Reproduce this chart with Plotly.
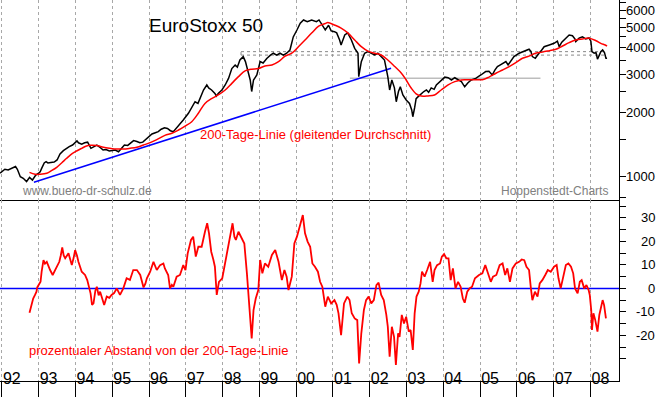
import math
import plotly.graph_objects as go

# ---------------- data (decimal year, value) ----------------
price_pts = [
    (1991.95, 1040), (1992.00, 1055), (1992.08, 1083), (1992.17, 1075), (1992.25, 1094),
    (1992.33, 1106), (1992.37, 1115), (1992.42, 1083), (1992.50, 1000), (1992.58, 983),
    (1992.67, 948), (1992.72, 975), (1992.75, 993), (1992.83, 965), (1992.92, 1018),
    (1993.00, 1040), (1993.04, 1055), (1993.08, 1094), (1993.15, 1160), (1993.20, 1175),
    (1993.25, 1160), (1993.33, 1165), (1993.42, 1170), (1993.50, 1197), (1993.58, 1277),
    (1993.67, 1323), (1993.75, 1357), (1993.83, 1381), (1993.92, 1406), (1994.00, 1457),
    (1994.04, 1470), (1994.08, 1440), (1994.17, 1420), (1994.25, 1440), (1994.33, 1450),
    (1994.42, 1357), (1994.50, 1381), (1994.58, 1406), (1994.67, 1370), (1994.75, 1333),
    (1994.83, 1340), (1994.92, 1320), (1995.00, 1325), (1995.08, 1333), (1995.17, 1308),
    (1995.25, 1360), (1995.33, 1406), (1995.42, 1400), (1995.50, 1440), (1995.58, 1474),
    (1995.67, 1460), (1995.75, 1440), (1995.83, 1450), (1995.92, 1494), (1996.00, 1538),
    (1996.08, 1583), (1996.17, 1605), (1996.25, 1623), (1996.33, 1666), (1996.42, 1694),
    (1996.50, 1680), (1996.58, 1640), (1996.66, 1623), (1996.75, 1700), (1996.83, 1760),
    (1996.93, 1841), (1997.07, 1978), (1997.16, 2115), (1997.25, 2240), (1997.33, 2200),
    (1997.39, 2316), (1997.48, 2542), (1997.57, 2683), (1997.62, 2600), (1997.70, 2542),
    (1997.79, 2450), (1997.83, 2380), (1997.88, 2450), (1997.98, 2542), (1998.07, 2683),
    (1998.16, 2880), (1998.25, 3200), (1998.34, 3327), (1998.40, 3250), (1998.47, 3510),
    (1998.56, 3640), (1998.62, 3450), (1998.68, 3150), (1998.75, 2831), (1998.79, 2500),
    (1998.84, 2831), (1998.93, 2987), (1999.02, 3450), (1999.10, 3400), (1999.20, 3570),
    (1999.30, 3700), (1999.38, 3775), (1999.47, 3700), (1999.56, 3775), (1999.65, 3700),
    (1999.74, 3775), (1999.83, 3909), (1999.92, 4500), (2000.02, 4847), (2000.11, 5210),
    (2000.20, 5400), (2000.30, 5300), (2000.42, 5400), (2000.55, 5300), (2000.62, 5400),
    (2000.70, 5100), (2000.79, 4847), (2000.88, 5100), (2000.95, 4800), (2001.04, 4760),
    (2001.10, 4700), (2001.18, 4353), (2001.22, 4125), (2001.32, 4593), (2001.40, 4700),
    (2001.50, 4353), (2001.59, 3980), (2001.68, 3775), (2001.70, 2935), (2001.77, 3450),
    (2001.86, 3775), (2001.95, 3840), (2002.04, 3775), (2002.13, 3704), (2002.22, 3775),
    (2002.31, 3640), (2002.40, 3510), (2002.49, 2935), (2002.54, 2542), (2002.60, 2831),
    (2002.67, 2600), (2002.72, 2240), (2002.78, 2500), (2002.83, 2630), (2002.90, 2409),
    (2002.99, 2283), (2003.08, 2200), (2003.14, 2050), (2003.17, 1906), (2003.22, 2100),
    (2003.26, 2316), (2003.33, 2380), (2003.40, 2450), (2003.47, 2500), (2003.54, 2542),
    (2003.60, 2480), (2003.67, 2600), (2003.75, 2560), (2003.81, 2683), (2003.88, 2750),
    (2003.94, 2831), (2004.04, 2920), (2004.13, 2900), (2004.22, 2831), (2004.31, 2900),
    (2004.40, 2831), (2004.49, 2780), (2004.58, 2630), (2004.67, 2750), (2004.76, 2831),
    (2004.88, 2880), (2005.02, 2987), (2005.15, 3100), (2005.24, 3110), (2005.33, 2987),
    (2005.40, 3150), (2005.47, 3270), (2005.55, 3330), (2005.61, 3390), (2005.70, 3450),
    (2005.76, 3327), (2005.84, 3500), (2005.92, 3640), (2006.06, 3775), (2006.13, 3820),
    (2006.20, 3880), (2006.33, 3940), (2006.38, 3850), (2006.42, 3640), (2006.50, 3575),
    (2006.55, 3700), (2006.60, 3775), (2006.67, 3900), (2006.74, 4050), (2006.88, 4125),
    (2007.01, 4200), (2007.10, 4300), (2007.15, 4050), (2007.22, 4250), (2007.28, 4353),
    (2007.35, 4450), (2007.42, 4593), (2007.51, 4560), (2007.58, 4400), (2007.60, 4283),
    (2007.69, 4440), (2007.78, 4500), (2007.87, 4400), (2007.96, 4450), (2008.01, 4300),
    (2008.04, 3840), (2008.10, 3775), (2008.15, 3800), (2008.19, 3540), (2008.24, 3700),
    (2008.28, 3840), (2008.33, 3909), (2008.38, 3800), (2008.42, 3575), (2008.45, 3580),
]

ma200_pts = [
    (1992.75, 1048), (1992.90, 1026), (1993.04, 1026), (1993.22, 1037), (1993.35, 1067),
    (1993.49, 1106), (1993.63, 1162), (1993.76, 1219), (1993.90, 1277), (1994.03, 1318),
    (1994.17, 1357), (1994.30, 1392), (1994.40, 1402), (1994.58, 1398), (1994.76, 1372),
    (1994.94, 1357), (1995.12, 1347), (1995.30, 1347), (1995.48, 1357), (1995.67, 1372),
    (1995.85, 1406), (1996.03, 1442), (1996.21, 1490), (1996.43, 1560), (1996.62, 1595),
    (1996.80, 1653), (1996.98, 1725), (1997.16, 1807), (1997.34, 1978), (1997.52, 2200),
    (1997.70, 2316), (1997.88, 2409), (1998.07, 2542), (1998.25, 2730), (1998.43, 2935),
    (1998.61, 3120), (1998.79, 3180), (1998.97, 3200), (1999.15, 3290), (1999.34, 3327),
    (1999.52, 3450), (1999.70, 3660), (1999.88, 3775), (2000.06, 4050), (2000.24, 4353),
    (2000.42, 4690), (2000.61, 5050), (2000.79, 5200), (2000.86, 5250), (2001.04, 5115),
    (2001.22, 4950), (2001.41, 4690), (2001.59, 4353), (2001.77, 4050), (2001.95, 3860),
    (2002.13, 3775), (2002.31, 3704), (2002.49, 3510), (2002.68, 3270), (2002.86, 3045),
    (2002.99, 2831), (2003.13, 2590), (2003.26, 2440), (2003.40, 2380), (2003.58, 2385),
    (2003.76, 2409), (2003.94, 2542), (2004.13, 2683), (2004.31, 2780), (2004.49, 2831),
    (2004.67, 2835), (2004.85, 2840), (2005.06, 2840), (2005.24, 2920), (2005.43, 3045),
    (2005.61, 3152), (2005.79, 3270), (2005.97, 3410), (2006.15, 3575), (2006.33, 3660),
    (2006.51, 3775), (2006.69, 3820), (2006.88, 3880), (2007.06, 3940), (2007.24, 4080),
    (2007.42, 4230), (2007.60, 4353), (2007.78, 4400), (2007.96, 4440), (2008.15, 4320),
    (2008.28, 4200), (2008.40, 4125), (2008.45, 4080),
]

deviation_pts = [
    (1992.75, -10.4), (1992.79, -7.8), (1992.85, -4.3), (1992.90, -2.8), (1992.94, -1.4),
    (1992.96, 0.4), (1993.02, 2.1), (1993.05, 2.8), (1993.08, 7.1), (1993.13, 12.0),
    (1993.17, 10.5), (1993.22, 11.3), (1993.31, 7.8), (1993.38, 5.7), (1993.47, 8.5),
    (1993.56, 11.3), (1993.60, 14.0), (1993.64, 17.4), (1993.68, 14.0), (1993.72, 12.8),
    (1993.81, 14.9), (1993.90, 9.9), (1993.95, 13.0), (1993.99, 16.3), (1994.04, 14.0),
    (1994.08, 11.3), (1994.17, 7.1), (1994.26, 5.7), (1994.32, 3.5), (1994.41, -2.1),
    (1994.45, -7.0), (1994.49, -6.4), (1994.54, -1.0), (1994.58, 0.7), (1994.63, -3.0),
    (1994.67, -1.4), (1994.78, -7.1), (1994.85, -3.5), (1994.92, -4.0), (1994.98, -2.8),
    (1995.05, -2.0), (1995.12, 0.0), (1995.21, -2.8), (1995.30, 0.0), (1995.39, 4.3),
    (1995.48, 3.6), (1995.57, 7.8), (1995.67, 7.8), (1995.76, 5.7), (1995.85, 0.4),
    (1995.90, 2.0), (1995.94, 4.3), (1996.03, 7.1), (1996.12, 11.3), (1996.21, 7.8),
    (1996.30, 9.9), (1996.39, 10.6), (1996.43, 8.5), (1996.52, 5.7), (1996.57, 0.0),
    (1996.62, 1.5), (1996.66, 0.7), (1996.75, 5.0), (1996.84, 5.7), (1996.93, 9.9),
    (1996.99, 7.8), (1997.05, 14.9), (1997.14, 20.6), (1997.20, 22.0), (1997.27, 13.5),
    (1997.34, 17.7), (1997.43, 17.7), (1997.52, 24.1), (1997.58, 27.7), (1997.63, 23.4),
    (1997.69, 15.6), (1997.75, 12.1), (1997.79, 9.2), (1997.84, -2.8), (1997.90, 2.8),
    (1997.99, 4.3), (1998.07, 10.6), (1998.16, 19.1), (1998.22, 24.0), (1998.27, 27.7),
    (1998.32, 22.0), (1998.36, 20.6), (1998.43, 24.1), (1998.52, 21.3), (1998.59, 19.1),
    (1998.66, 6.4), (1998.70, -3.5), (1998.76, -13.5), (1998.79, -21.3), (1998.84, -9.2),
    (1998.90, -4.3), (1998.97, -0.7), (1999.02, 12.1), (1999.08, 6.4), (1999.15, 10.6),
    (1999.24, 9.2), (1999.34, 14.2), (1999.43, 16.3), (1999.52, 11.3), (1999.61, 3.5),
    (1999.68, 7.8), (1999.74, 5.0), (1999.79, -0.7), (1999.88, 5.0), (1999.95, 19.1),
    (2000.02, 22.0), (2000.11, 27.7), (2000.18, 31.2), (2000.24, 23.4), (2000.31, 19.9),
    (2000.38, 17.7), (2000.44, 10.6), (2000.51, 9.2), (2000.59, 7.1), (2000.65, 2.8),
    (2000.71, 0.7), (2000.79, -7.8), (2000.86, -3.5), (2000.95, -6.4), (2001.04, -5.0),
    (2001.10, -7.0), (2001.15, -10.6), (2001.22, -19.9), (2001.30, -6.4), (2001.39, -3.5),
    (2001.45, -5.0), (2001.51, -10.6), (2001.59, -12.8), (2001.66, -13.5), (2001.71, -31.9),
    (2001.77, -19.1), (2001.84, -9.2), (2001.90, -5.0), (2001.97, -3.5), (2002.04, -6.4),
    (2002.11, -5.0), (2002.18, 1.4), (2002.24, 2.4), (2002.31, -2.8), (2002.38, -5.0),
    (2002.45, -11.3), (2002.49, -16.3), (2002.54, -29.1), (2002.60, -16.3), (2002.66, -20.6),
    (2002.71, -32.6), (2002.77, -19.1), (2002.81, -20.6), (2002.87, -11.3), (2002.93, -14.9),
    (2002.99, -12.1), (2003.06, -18.4), (2003.11, -17.7), (2003.17, -26.2), (2003.22, -10.6),
    (2003.27, -3.5), (2003.33, -1.4), (2003.38, 2.1), (2003.42, 7.1), (2003.49, 5.0),
    (2003.56, 7.8), (2003.64, 11.3), (2003.71, 2.8), (2003.76, 7.8), (2003.83, 9.9),
    (2003.91, 10.6), (2003.96, 13.5), (2004.02, 14.6), (2004.08, 12.8), (2004.14, 12.8),
    (2004.20, 3.5), (2004.26, 8.5), (2004.33, 0.0), (2004.40, 2.8), (2004.47, 0.7),
    (2004.53, -4.3), (2004.58, -6.1), (2004.65, -1.4), (2004.71, 0.0), (2004.78, 0.7),
    (2004.86, 4.3), (2004.97, 5.7), (2005.06, 6.4), (2005.14, 9.9), (2005.20, 7.1),
    (2005.29, 2.8), (2005.35, 5.0), (2005.44, 5.7), (2005.53, 9.9), (2005.61, 10.6),
    (2005.68, 5.7), (2005.74, 8.5), (2005.81, 2.8), (2005.88, 8.5), (2005.97, 10.6),
    (2006.06, 11.3), (2006.13, 12.3), (2006.20, 12.0), (2006.26, 9.2), (2006.33, 7.8),
    (2006.38, 0.0), (2006.42, -5.0), (2006.49, -1.4), (2006.56, -3.5), (2006.62, 2.1),
    (2006.69, 3.5), (2006.77, 5.7), (2006.84, 7.8), (2006.92, 7.1), (2007.01, 9.2),
    (2007.08, 9.9), (2007.13, 4.3), (2007.19, 0.0), (2007.26, 5.0), (2007.33, 9.9),
    (2007.40, 10.6), (2007.47, 9.2), (2007.53, 6.4), (2007.58, 0.0), (2007.65, -2.1),
    (2007.71, 2.8), (2007.76, 3.5), (2007.83, 0.0), (2007.89, 1.4), (2007.95, -0.7),
    (2007.98, -2.8), (2008.02, -9.2), (2008.04, -17.7), (2008.08, -10.6), (2008.13, -13.5),
    (2008.19, -18.4), (2008.24, -11.3), (2008.28, -7.8), (2008.33, -5.0), (2008.37, -7.1),
    (2008.42, -12.8),
]

trend_year = [1992.87, 2002.58]
trend_value = [942, 3210]

zone_year = [1998.50, 2008.45]
zone_high = 3840
zone_low = 3700

support_year = [2001.46, 2006.64]
support_value = 2884

year_ticks = list(range(1992, 2009))
year_labels = ["92", "93", "94", "95", "96", "97", "98", "99", "00",
               "01", "02", "03", "04", "05", "06", "07", "08"]

price_tick_vals = [800, 1000, 1500, 2000, 2500, 3000, 3500, 4000, 4500, 5000, 5500, 6000, 6500]
price_labels = [1000, 2000, 3000, 4000, 5000, 6000]
dev_tick_vals = [35, 30, 25, 20, 15, 10, 5, 0, -5, -10, -15, -20, -25, -30]
dev_labels = [30, 20, 10, 0, -10, -20]

X_RANGE = [1991.948, 2008.775]
FONT = "Liberation Sans, Arial, sans-serif"
NARROW = "Liberation Sans Narrow, Arial Narrow, Liberation Sans, sans-serif"

# ---------------- figure ----------------
fig = go.Figure()

px_, pv_ = zip(*price_pts)
mx_, mv_ = zip(*ma200_pts)
dx_, dv_ = zip(*deviation_pts)

# grey zone (dotted box lines)
fig.add_trace(go.Scatter(
    x=[zone_year[0], zone_year[1], None, zone_year[0], zone_year[1], None, zone_year[0], zone_year[0]],
    y=[zone_high, zone_high, None, zone_low, zone_low, None, zone_low, zone_high],
    mode="lines", line=dict(color="#888888", width=1, dash="dot"),
    xaxis="x", yaxis="y", hoverinfo="skip"))
# support line
fig.add_trace(go.Scatter(
    x=support_year, y=[support_value, support_value],
    mode="lines", line=dict(color="#bdbdbd", width=1.5),
    xaxis="x", yaxis="y", hoverinfo="skip"))
# trend line
fig.add_trace(go.Scatter(
    x=trend_year, y=trend_value, mode="lines",
    line=dict(color="#0000ff", width=1.5), xaxis="x", yaxis="y"))
# price
fig.add_trace(go.Scatter(
    x=px_, y=pv_, mode="lines", line=dict(color="#000000", width=1.5),
    xaxis="x", yaxis="y", name="EuroStoxx 50"))
# 200 day line
fig.add_trace(go.Scatter(
    x=mx_, y=mv_, mode="lines", line=dict(color="#ff0000", width=1.5, shape="spline"),
    xaxis="x", yaxis="y", name="200-Tage-Linie"))

# lower panel
fig.add_trace(go.Scatter(
    x=X_RANGE, y=[0, 0], mode="lines", line=dict(color="#0000ff", width=1.5),
    xaxis="x2", yaxis="y2", hoverinfo="skip"))
fig.add_trace(go.Scatter(
    x=dx_, y=dv_, mode="lines", line=dict(color="#ff0000", width=1.8),
    xaxis="x2", yaxis="y2", name="Abstand"))

grid = dict(showgrid=True, gridcolor="#a8a8a8", griddash="3px,3px", gridwidth=1)

fig.update_layout(
    width=660, height=397,
    margin=dict(l=0, r=41, t=0, b=16),
    paper_bgcolor="white", plot_bgcolor="white",
    showlegend=False,
    font=dict(family=FONT, size=13, color="black"),
    xaxis=dict(domain=[0, 1], range=X_RANGE, anchor="y", tickmode="array",
               tickvals=year_ticks, showticklabels=False, ticks="",
               showline=True, linecolor="black", linewidth=1, zeroline=False, **grid),
    yaxis=dict(domain=[0.4751, 1], type="log",
               range=[2.8911, 3.8257], side="right", anchor="x",
               tickmode="array", tickvals=price_tick_vals,
               ticktext=[""] * len(price_tick_vals),
               ticks="outside", ticklen=6, tickcolor="black",
               showline=True, linecolor="black", linewidth=1,
               showgrid=False, zeroline=False),
    xaxis2=dict(domain=[0, 1], range=X_RANGE, anchor="y2", tickmode="array",
                tickvals=year_ticks, ticktext=year_labels,
                ticks="outside", ticklen=16, tickcolor="black",
                ticklabelposition="outside right", ticklabelstandoff=-17,
                tickfont=dict(family=NARROW, size=16, color="black"),
                showline=True, linecolor="black", linewidth=1, zeroline=False, **grid),
    yaxis2=dict(domain=[0, 0.4751], range=[-39.4, 37.6], side="right", anchor="x2",
                tickmode="array", tickvals=dev_tick_vals,
                ticktext=[""] * len(dev_tick_vals),
                ticks="outside", ticklen=6, tickcolor="black",
                showline=True, linecolor="black", linewidth=1,
                showgrid=False, zeroline=False),
)

annotations = []
for v in price_labels:
    annotations.append(dict(x=1.062, xref="paper", y=math.log10(v), yref="y",
                            text=str(v), showarrow=False, xanchor="right", yanchor="middle",
                            font=dict(family=FONT, size=13, color="black")))
for v in dev_labels:
    annotations.append(dict(x=1.062, xref="paper", y=v, yref="y2",
                            text=str(v), showarrow=False, xanchor="right", yanchor="middle",
                            font=dict(family=FONT, size=13, color="black")))

annotations += [
    dict(x=0.2376, y=0.9318, xref="paper", yref="paper", text="EuroStoxx 50",
         showarrow=False, xanchor="left", yanchor="middle",
         font=dict(family=FONT, size=19, color="black")),
    dict(x=0.3195, y=0.6457, xref="paper", yref="paper",
         text="200-Tage-Linie (gleitender Durchschnitt)",
         showarrow=False, xanchor="left", yanchor="middle",
         font=dict(family=FONT, size=13, color="#ff0000")),
    dict(x=0.0323, y=0.4995, xref="paper", yref="paper", text="www.buero-dr-schulz.de",
         showarrow=False, xanchor="left", yanchor="middle",
         font=dict(family=FONT, size=12, color="#808080")),
    dict(x=0.986, y=0.4995, xref="paper", yref="paper", text="Hoppenstedt-Charts",
         showarrow=False, xanchor="right", yanchor="middle",
         font=dict(family=FONT, size=12, color="#808080")),
    dict(x=0.0431, y=0.0795, xref="paper", yref="paper",
         text="prozentualer Abstand von der 200-Tage-Linie",
         showarrow=False, xanchor="left", yanchor="middle",
         font=dict(family=FONT, size=13, color="#ff0000")),
]
fig.update_layout(annotations=annotations)

fig.write_html(
    "out.html",
    config={"displayModeBar": False},
    post_script="document.body.style.margin='0';document.body.style.overflow='hidden';",
)
